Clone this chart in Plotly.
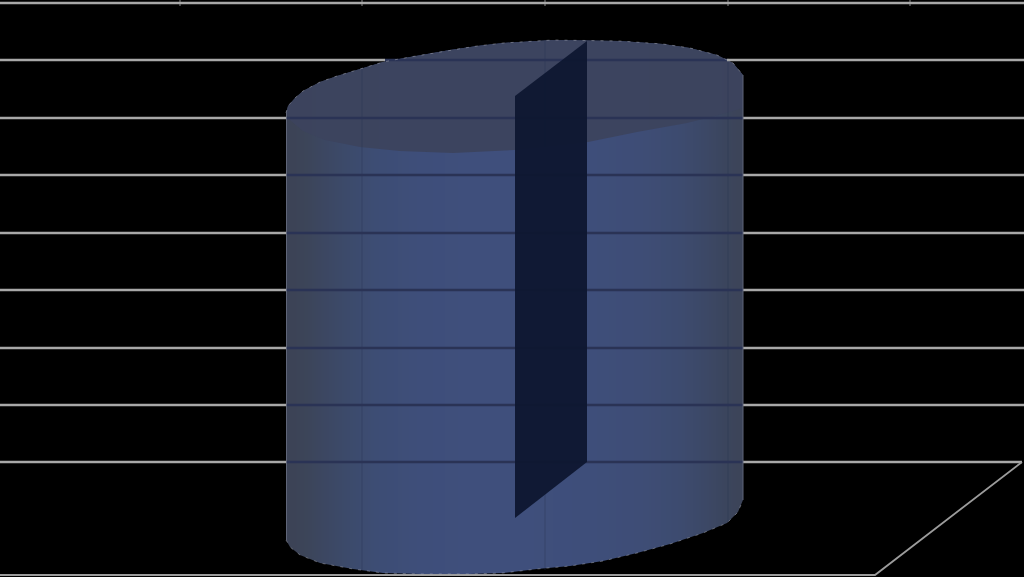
import plotly.graph_objects as go

grid_y = [3, 60, 118, 175, 233, 290, 348, 405, 462]
grid_left_end = [1024, 385, 287, 287, 287, 287, 287, 287, 287]
grid_right_start = [1024, 727, 743, 743, 743, 743, 743, 743, 743]
grid_right_end = [1024, 1024, 1024, 1024, 1024, 1024, 1024, 1024, 1022]
floor_x = [0, 875, 1022]
floor_y = [575, 575, 462]
vgrid_x = [180, 362, 545, 728, 910]
wall_x = [362, 545, 728]
wall_top = [69, 41, 58]
wall_bottom = [570, 570, 522]

band_x = [293, 307, 325, 345, 375, 420, 470, 515, 590, 640, 680, 705, 725, 737]
band_colors = ["#3c4356", "#3c4559", "#3c4762", "#3c4a6a", "#3d4d74", "#3e4e7a", "#3f4f7c",
               "#3f4f7c", "#3e4e7a", "#3e4d76", "#3d4b6f", "#3c4866", "#3b455d", "#3c4459"]

top_arc_x = [286, 288, 295, 303, 320, 337, 360, 383, 410, 450, 477, 503, 553, 620, 663, 690, 717, 733, 743]
top_arc_y = [113, 106, 98, 91, 82, 76, 69, 62, 57, 50, 46, 43, 40, 41, 44, 48, 55, 63, 75]
front_arc_x = [743, 715, 687, 637, 588, 514, 453, 400, 360, 325, 303, 290, 286]
front_arc_y = [108, 116, 123, 132, 142, 150, 153, 151, 147, 140, 131, 120, 113]
bottom_arc_x = [286, 290, 300, 320, 353, 383, 420, 470, 503, 537, 570, 603, 637, 670, 703, 727, 738, 743]
bottom_arc_y = [540, 547, 555, 563, 569, 573, 574, 574, 573, 569, 566, 561, 553, 544, 533, 523, 512, 500]

panel_x = [515, 587, 587, 515]
panel_y = [96, 41, 462, 518]

fig = go.Figure()

shade = list(range(len(band_x)))
scale = [[i / (len(band_x) - 1), c] for i, c in enumerate(band_colors)]
fig.add_trace(go.Heatmap(x=band_x, y=[167, 440], z=[shade, shade], colorscale=scale,
                         showscale=False, zsmooth="best", hoverinfo="skip"))

# black corners around the round ends of the body
fig.add_trace(go.Scatter(x=[280] + top_arc_x + [750, 750], y=[28] + top_arc_y + [75, 28],
                         fill="toself", fillcolor="black", mode="none", hoverinfo="skip"))
fig.add_trace(go.Scatter(x=[280] + bottom_arc_x + [750, 750], y=[577] + bottom_arc_y + [500, 577],
                         fill="toself", fillcolor="black", mode="none", hoverinfo="skip"))

# top disc
fig.add_trace(go.Scatter(x=top_arc_x + front_arc_x, y=top_arc_y + front_arc_y,
                         fill="toself", fillcolor="rgba(60,68,94,0.96)", mode="none", hoverinfo="skip"))

# faint walls seen through the body
for x, top, bottom in zip(wall_x, wall_top, wall_bottom):
    fig.add_trace(go.Scatter(x=[x, x], y=[top, bottom], mode="lines",
                             line=dict(color="rgba(40,50,85,0.25)", width=1.5), hoverinfo="skip"))
for x in vgrid_x:
    fig.add_trace(go.Scatter(x=[x, x], y=[0, 6], mode="lines",
                             line=dict(color="#8a8a8a", width=1), hoverinfo="skip"))

for y, left, right, end in zip(grid_y, grid_left_end, grid_right_start, grid_right_end):
    fig.add_trace(go.Scatter(x=[0, left], y=[y, y], mode="lines",
                             line=dict(color="#a8a8a8", width=2.6), hoverinfo="skip"))
    if right < end:
        fig.add_trace(go.Scatter(x=[right, end], y=[y, y], mode="lines",
                                 line=dict(color="#a8a8a8", width=2.6), hoverinfo="skip"))
    if left < right:
        fig.add_trace(go.Scatter(x=[left, right], y=[y, y], mode="lines",
                                 line=dict(color="#2a3355", width=2.6), hoverinfo="skip"))

fig.add_trace(go.Scatter(x=floor_x, y=floor_y, mode="lines",
                         line=dict(color="#9c9c9c", width=1.8), hoverinfo="skip"))

# dark slot in the middle
fig.add_trace(go.Scatter(x=panel_x, y=panel_y, fill="toself", fillcolor="rgba(14,24,50,0.97)",
                         mode="none", hoverinfo="skip"))

# speckled rim and side edges
for xs, ys in [(top_arc_x, top_arc_y), (bottom_arc_x, bottom_arc_y)]:
    fig.add_trace(go.Scatter(x=xs, y=ys, mode="lines",
                             line=dict(color="rgba(174,178,188,0.6)", width=0.8, dash="3px,6px"), hoverinfo="skip"))
fig.add_trace(go.Scatter(x=[286.5, 286.5], y=[113, 540], mode="lines",
                         line=dict(color="#5f6578", width=1), hoverinfo="skip"))
fig.add_trace(go.Scatter(x=[743, 743], y=[75, 500], mode="lines",
                         line=dict(color="#5f6578", width=1), hoverinfo="skip"))

fig.update_layout(width=1024, height=577, margin=dict(l=0, r=0, t=0, b=0),
                  paper_bgcolor="black", plot_bgcolor="black", showlegend=False)
fig.update_xaxes(range=[0, 1024], visible=False)
fig.update_yaxes(range=[577, 0], visible=False)

# page has a default margin that would shift the plot
fig.write_html("out.html", config={"displayModeBar": False},
               post_script="document.body.style.margin='0';document.body.style.background='black';")
